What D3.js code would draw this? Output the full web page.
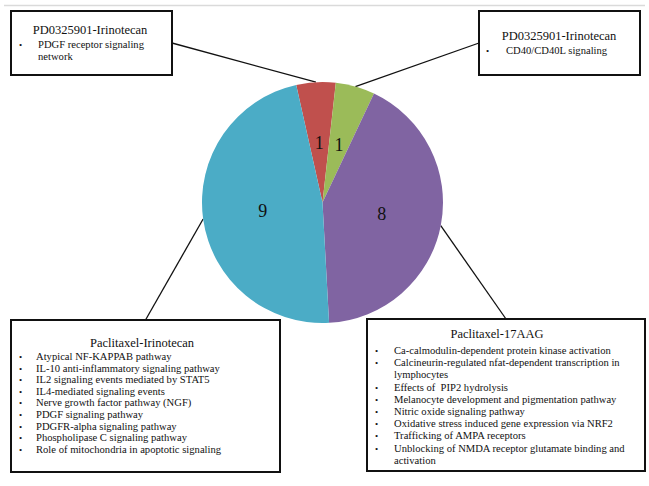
<!DOCTYPE html>
<html>
<head>
<meta charset="utf-8">
<script src="https://cdn.jsdelivr.net/npm/d3@7"></script>
<style>
  body { margin: 0; background: #fff; }
  svg { display: block; font-family: "Liberation Serif", "Times New Roman", serif; }
</style>
</head>
<body>
<div id="chart"></div>
<script>
// drug combinations and how many pathways each one shares
const sliceNames = ["PD0325901-Irinotecan", "PD0325901-Irinotecan", "Paclitaxel-17AAG", "Paclitaxel-Irinotecan"];
const sliceValues = [1, 1, 8, 9];
const sliceColors = ["#c0504d", "#9bbb59", "#8064a2", "#4bacc6"];

// pathway lists shown in the call-out boxes
const pathwaysRed = ["PDGF receptor signaling network"];
const pathwaysGreen = ["CD40/CD40L signaling"];
const pathwaysPurple = [
  "Ca-calmodulin-dependent protein kinase activation",
  "Calcineurin-regulated nfat-dependent transcription in lymphocytes",
  "Effects of  PIP2 hydrolysis",
  "Melanocyte development and pigmentation pathway",
  "Nitric oxide signaling pathway",
  "Oxidative stress induced gene expression via NRF2",
  "Trafficking of AMPA receptors",
  "Unblocking of NMDA receptor glutamate binding and activation"
];
const pathwaysBlue = [
  "Atypical NF-KAPPAB pathway",
  "IL-10 anti-inflammatory signaling pathway",
  "IL2 signaling events mediated by STAT5",
  "IL4-mediated signaling events",
  "Nerve growth factor pathway (NGF)",
  "PDGF signaling pathway",
  "PDGFR-alpha signaling pathway",
  "Phospholipase C signaling pathway",
  "Role of mitochondria in apoptotic signaling"
];

const width = 649, height = 486;
const cx = 322.5, cy = 202.5, radius = 120.5;
const startDeg = -12.6; // first slice starts a little left of 12 o'clock

const svg = d3.select("#chart").append("svg")
  .attr("width", width)
  .attr("height", height);

// faint rule along the top
svg.append("line")
  .attr("x1", 4).attr("x2", 645)
  .attr("y1", 5.5).attr("y2", 5.5)
  .attr("stroke", "#dadada")
  .attr("stroke-width", 1.5);

const pie = d3.pie()
  .sort(null)
  .value(d => d)
  .startAngle(startDeg * Math.PI / 180)
  .endAngle(startDeg * Math.PI / 180 + 2 * Math.PI);

const arcs = pie(sliceValues);

const arc = d3.arc().innerRadius(0).outerRadius(radius);
const labelArc = d3.arc().innerRadius(radius * 0.5).outerRadius(radius * 0.5);

// call-out boxes, one per slice (layout only)
const boxes = [
  { x: 11, y: 11, w: 161, h: 64, side: "right", titleX: 90, titleY: 34, firstY: 48, step: 12,
    bulletX: 19, textX: 38, maxW: 128 },
  { x: 479, y: 11, w: 161, h: 64, side: "left", titleX: 559, titleY: 40, firstY: 54, step: 12,
    bulletX: 486, textX: 506, maxW: 130 },
  { x: 367, y: 319, w: 278, h: 152, side: "top", titleX: 497, titleY: 338, firstY: 354, step: 12.2,
    bulletX: 375, textX: 394, maxW: 240 },
  { x: 11, y: 320, w: 269, h: 152, side: "top", titleX: 142, titleY: 347, firstY: 360, step: 11.6,
    bulletX: 19, textX: 36, maxW: 235 }
];
const pathwayLists = [pathwaysRed, pathwaysGreen, pathwaysPurple, pathwaysBlue];

// leader lines from each box to the rim of its slice
const leaderGroup = svg.append("g");
arcs.forEach((a, i) => {
  const b = boxes[i];
  const mid = (a.startAngle + a.endAngle) / 2;
  const px = cx + radius * Math.sin(mid);
  const py = cy - radius * Math.cos(mid);
  let bx, by;
  if (b.side === "right") { bx = b.x + b.w; by = b.y + b.h / 2; }
  else if (b.side === "left") { bx = b.x; by = b.y + b.h / 2; }
  else { bx = b.x + b.w / 2; by = b.y; }
  leaderGroup.append("line")
    .attr("x1", bx).attr("y1", by)
    .attr("x2", px).attr("y2", py)
    .attr("stroke", "#111")
    .attr("stroke-width", 1.3);
});

// the pie
const pieGroup = svg.append("g")
  .attr("transform", `translate(${cx},${cy})`);

pieGroup.selectAll("path")
  .data(arcs)
  .enter()
  .append("path")
    .attr("d", arc)
    .attr("fill", (d, i) => sliceColors[i]);

pieGroup.selectAll("text")
  .data(arcs)
  .enter()
  .append("text")
    .attr("transform", d => `translate(${labelArc.centroid(d)})`)
    .attr("text-anchor", "middle")
    .attr("dy", "0.35em")
    .style("font-size", "18px")
    .style("fill", "#111")
    .text(d => d.value);

// draws a box with its title and a word-wrapped bullet list
function drawBox(b, title, items) {
  const g = svg.append("g");
  g.append("rect")
    .attr("x", b.x).attr("y", b.y)
    .attr("width", b.w).attr("height", b.h)
    .attr("fill", "#fff")
    .attr("stroke", "#111")
    .attr("stroke-width", 2);

  g.append("text")
    .attr("x", b.titleX)
    .attr("y", b.titleY)
    .attr("text-anchor", "middle")
    .style("font-size", "12.5px")
    .style("fill", "#111")
    .text(title);

  let y = b.firstY;
  items.forEach(item => {
    g.append("text")
      .attr("x", b.bulletX)
      .attr("y", y)
      .style("font-size", "9px")
      .style("fill", "#111")
      .text("•");

    const words = item.split(" ");
    let line = "";
    let t = addLine(g, b.textX, y);
    words.forEach(w => {
      const test = line === "" ? w : line + " " + w;
      t.text(test);
      if (t.node().getComputedTextLength() > b.maxW && line !== "") {
        t.text(line);
        y += b.step;
        t = addLine(g, b.textX, y).text(w);
        line = w;
      } else {
        line = test;
      }
    });
    y += b.step;
  });
}

function addLine(g, x, y) {
  return g.append("text")
    .attr("x", x).attr("y", y)
    .style("font-size", "10.6px")
    .style("fill", "#111")
    .style("white-space", "pre");
}

boxes.forEach((b, i) => drawBox(b, sliceNames[i], pathwayLists[i]));
</script>
</body>
</html>
